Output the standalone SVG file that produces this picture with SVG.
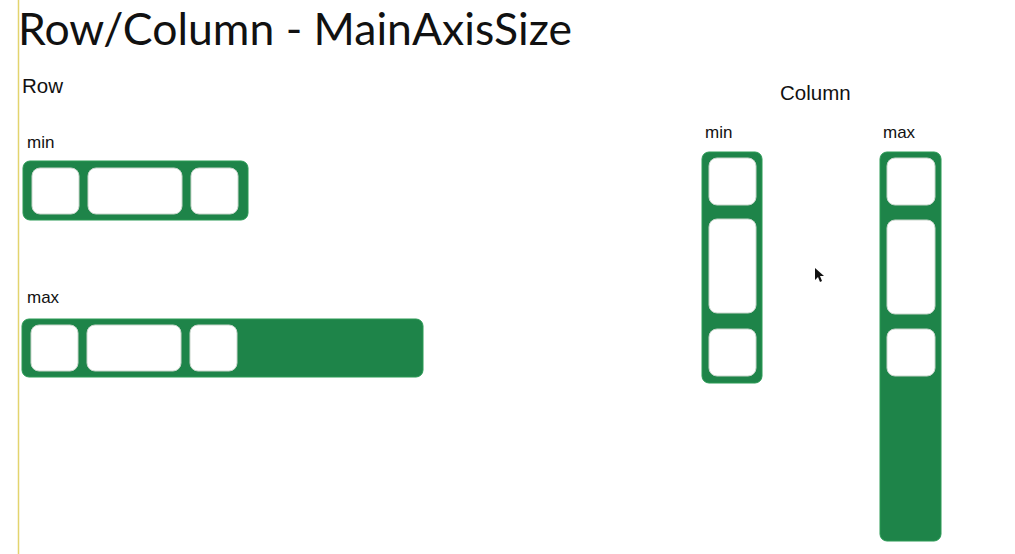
<svg xmlns="http://www.w3.org/2000/svg" width="1015" height="554" viewBox="0 0 1015 554">
<style>
.t{font-family:"Lato","Noto Sans",sans-serif;font-weight:400;fill:#111}
.lbl{font-family:"Liberation Sans",Arial,sans-serif;fill:#111}
.box{fill:#1e8449;stroke:#2a9a55;stroke-width:1}
.cell{fill:#ffffff;stroke:#c9d6cc;stroke-width:1}
</style>
<rect x="0" y="0" width="1015" height="554" fill="#ffffff"/>
<line x1="18.5" y1="0" x2="18.5" y2="554" stroke="#e3d46e" stroke-width="1.5"/>
<text class="t" x="18" y="45" font-size="44" textLength="554" lengthAdjust="spacingAndGlyphs">Row/Column - MainAxisSize</text>
<text class="lbl" x="22" y="93" font-size="20.5">Row</text>
<text class="lbl" x="780" y="100" font-size="20.5">Column</text>

<g id="row-min">
<text class="lbl" x="27" y="148" font-size="17">min</text>
<rect class="box" x="23" y="161" width="225" height="59" rx="7"/>
<rect class="cell" x="32" y="168" width="47" height="46" rx="8"/>
<rect class="cell" x="88" y="168" width="94" height="46" rx="8"/>
<rect class="cell" x="191" y="168" width="47" height="46" rx="8"/>
</g>

<g id="row-max">
<text class="lbl" x="27" y="303" font-size="17">max</text>
<rect class="box" x="22" y="319" width="401" height="58" rx="7"/>
<rect class="cell" x="31" y="325" width="47" height="46" rx="8"/>
<rect class="cell" x="87" y="325" width="94" height="46" rx="8"/>
<rect class="cell" x="190" y="325" width="47" height="46" rx="8"/>
</g>

<g id="col-min">
<text class="lbl" x="705" y="138" font-size="17">min</text>
<rect class="box" x="702" y="152" width="60" height="231" rx="7"/>
<rect class="cell" x="709" y="158" width="47" height="47" rx="8"/>
<rect class="cell" x="709" y="219" width="47" height="94" rx="8"/>
<rect class="cell" x="709" y="329" width="47" height="47" rx="8"/>
</g>

<g id="col-max">
<text class="lbl" x="883" y="138" font-size="17">max</text>
<rect class="box" x="880" y="152" width="61" height="389" rx="7"/>
<rect class="cell" x="887" y="158" width="48" height="47" rx="8"/>
<rect class="cell" x="887" y="220" width="48" height="94" rx="8"/>
<rect class="cell" x="887" y="329" width="48" height="47" rx="8"/>
</g>

<g id="connectors"></g>

<polygon points="815,268 815,280 818,277 820,282 822,281 820,276 824,276" fill="#111"/>
</svg>
